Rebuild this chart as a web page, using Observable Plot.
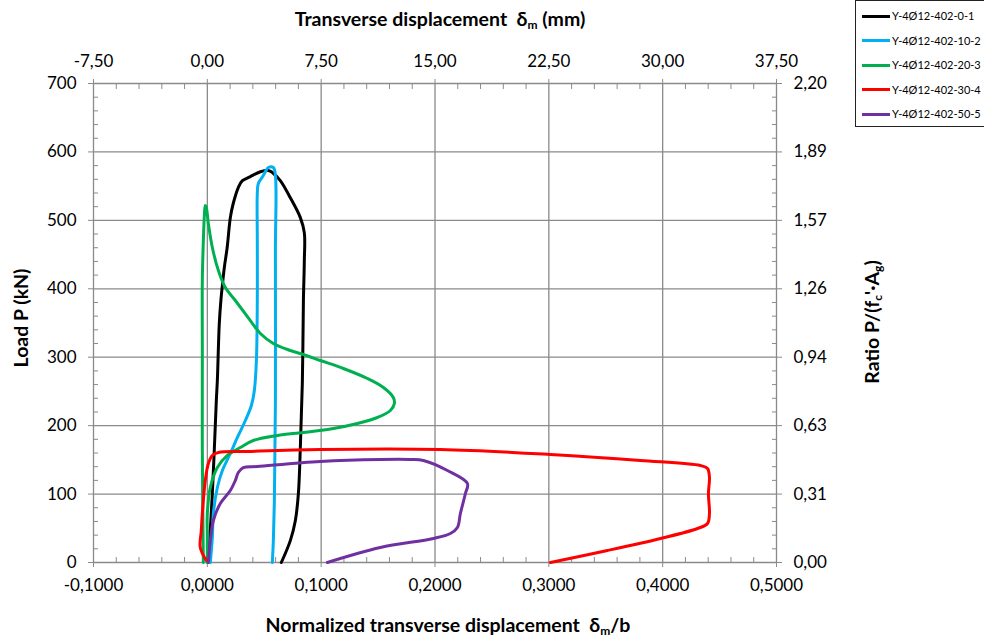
<!DOCTYPE html>
<html>
<head>
<meta charset="utf-8">
<script src="https://cdn.jsdelivr.net/npm/d3@7"></script>
<script src="https://cdn.jsdelivr.net/npm/@observablehq/plot@0.6"></script>
<style>
  html, body { margin: 0; padding: 0; background: #fff; }
  body { width: 984px; height: 641px; overflow: hidden; position: relative; font-family: Lato, "Open Sans", sans-serif; }
  #chart { position: absolute; left: 0; top: 0; }
  .title { position: absolute; font-weight: bold; font-size: 19.5px; color: #000; white-space: nowrap; }
  .title sub { font-size: 12px; vertical-align: -3px; }
  #legend { position: absolute; left: 855px; top: 0px; width: 131px; height: 127px; border: 1px solid #222; background: #fff; box-sizing: border-box; }
  .leg { position: absolute; left: 6px; height: 14px; font-size: 11px; line-height: 14px; white-space: nowrap; }
  .leg span.sw { display: inline-block; width: 28px; height: 3px; vertical-align: middle; margin-right: 2px; position: relative; top: -1px; }
</style>
</head>
<body>
<div id="chart"></div>
<script>
// ---- Data ----
const seriesNames = ["Y-4Ø12-402-0-1", "Y-4Ø12-402-10-2", "Y-4Ø12-402-20-3", "Y-4Ø12-402-30-4", "Y-4Ø12-402-50-5"];
const seriesColors = ["#000000", "#00B0F0", "#00B050", "#FF0000", "#7030A0"];

// normalized transverse displacement δm/b  vs  load P (kN)
const s1x = [0.0009,0.0026,0.0044,0.0062,0.0079,0.0088,0.0105,0.0120,0.0132,0.0150,0.0174,0.0202,0.0228,0.0272,0.0308,0.0378,0.0466,0.0536,0.0571,0.0641,0.0729,0.0817,0.0852,0.0852,0.0844,0.0835,0.0817,0.0800,0.0773,0.0729,0.0650];
const s1y = [0,46.8,100.8,168,236.7,266,349,385,405,432,460,504,525,548,558,564,571,573,570,558,533,504,482,441,383,266,168,101,61,32,0];

const s2x = [0.0026,0.0044,0.0053,0.0088,0.0132,0.0202,0.0264,0.0334,0.0387,0.0413,0.0431,0.0439,0.0439,0.0439,0.0448,0.0492,0.0536,0.0580,0.0598,0.0598,0.0598,0.0589,0.0580,0.0571];
const s2y = [0,36.5,71.6,109.6,134.4,159.3,182.7,207.5,229.4,251.4,295.2,383,470.6,539.3,553.9,565.6,577.2,577.2,565.6,456,236.7,90.6,32.1,0];

const s3x = [-0.0035,-0.0044,-0.0044,-0.0044,-0.0035,-0.0026,-0.0018,-0.0009,0.0009,0.0044,0.0097,0.0158,0.0246,0.0378,0.0466,0.0580,0.0729,0.0844,0.0993,0.1195,0.1406,0.1547,0.1634,0.1643,0.1608,0.1494,0.1318,0.1107,0.0844,0.0615,0.0404,0.0290,0.0176,0.0088,0.0026,0.0000,0.0000,0.0000];
const s3y = [0,163.7,309.8,412,470.6,507,521.7,518.8,495.4,460.3,426.7,401.9,382.9,353.6,334.7,320,309.8,304,295.2,283.5,268.9,255.7,241.1,232.4,222.1,211.9,203.1,195.8,190,185.6,178.3,168,156.4,138.8,109.6,71.6,36.5,0];

const s4x = [-0.0009,-0.0062,-0.0053,-0.0044,-0.0018,0.0009,0.0044,0.0097,0.0351,0.0993,0.2047,0.3014,0.3805,0.4332,0.4394,0.4411,0.4402,0.4411,0.4394,0.4306,0.3981,0.3515,0.3014];
const s4y = [2.9,21.9,46.8,71.6,119.8,144.7,156.4,160.7,162.2,165.1,165.1,157.8,149.1,141.7,137.4,124.2,100.8,71.6,57,49.7,35.1,17.5,0];

const s5x = [0.0009,0.0026,0.0053,0.0114,0.0202,0.0246,0.0272,0.0316,0.0439,0.0993,0.1520,0.1784,0.1898,0.2109,0.2285,0.2267,0.2223,0.2197,0.2135,0.1986,0.1520,0.1054];
const s5y = [0,32.1,61.4,86.2,105.2,119.8,131.5,138.8,140.3,147.6,150.5,150.5,149.1,134.4,115.4,100.8,71.6,51.1,42.4,35.1,21.9,0];

// ---- Tick values and labels ----
const xTicks = [-0.1, 0, 0.1, 0.2, 0.3, 0.4, 0.5];
const xTickLabels = ["-0,1000", "0,0000", "0,1000", "0,2000", "0,3000", "0,4000", "0,5000"];
const topTickLabels = ["-7,50", "0,00", "7,50", "15,00", "22,50", "30,00", "37,50"];
const yTicks = [0, 100, 200, 300, 400, 500, 600, 700];
const yTickLabels = ["0", "100", "200", "300", "400", "500", "600", "700"];
const rightTickLabels = ["0,00", "0,31", "0,63", "0,94", "1,26", "1,57", "1,89", "2,20"];

const xMinor = d3.range(-0.1, 0.5001, 0.02).map(v => +v.toFixed(4)).filter(v => !xTicks.some(t => Math.abs(t - v) < 1e-6));
const yMinor = d3.range(0, 701, 20).filter(v => v % 100 !== 0);

const allSeries = [s1x, s2x, s3x, s4x, s5x].map((xs, k) => {
  const ys = [s1y, s2y, s3y, s4y, s5y][k];
  return xs.map((x, i) => ({x, y: ys[i], s: seriesNames[k]}));
});

const grey = "#8a8a8a";
const chart = Plot.plot({
  width: 984,
  height: 641,
  marginLeft: 93,
  marginRight: 208,
  marginTop: 83,
  marginBottom: 79,
  style: {fontFamily: "Lato, 'Open Sans', sans-serif", fontSize: "17px", color: "#000", background: "#fff"},
  x: {domain: [-0.1, 0.5]},
  y: {domain: [0, 700]},
  marks: [
    Plot.ruleX(xTicks, {stroke: grey, strokeWidth: 1.3}),
    Plot.ruleY(yTicks, {stroke: grey, strokeWidth: 1.3}),
    // minor ticks (inward)
    Plot.axisX({anchor: "bottom", ticks: xMinor, tickSize: -5, tickFormat: () => "", stroke: grey, label: null}),
    Plot.axisX({anchor: "top", ticks: xMinor, tickSize: -5, tickFormat: () => "", stroke: grey, label: null}),
    Plot.axisY({anchor: "left", ticks: yMinor, tickSize: -5, tickFormat: () => "", stroke: grey, label: null}),
    Plot.axisY({anchor: "right", ticks: yMinor, tickSize: -5, tickFormat: () => "", stroke: grey, label: null}),
    // major ticks with labels
    Plot.axisX({anchor: "bottom", ticks: xTicks, tickSize: 5, tickPadding: 11, tickFormat: d => xTickLabels[xTicks.findIndex(t => Math.abs(t - d) < 1e-9)], stroke: grey, fill: "#000", label: null}),
    Plot.axisX({anchor: "top", ticks: xTicks, tickSize: 5, tickPadding: 12, tickFormat: d => topTickLabels[xTicks.findIndex(t => Math.abs(t - d) < 1e-9)], stroke: grey, fill: "#000", label: null}),
    Plot.axisY({anchor: "left", ticks: yTicks, tickSize: 5, tickPadding: 12, tickFormat: d => yTickLabels[yTicks.indexOf(d)], stroke: grey, fill: "#000", label: null}),
    Plot.axisY({anchor: "right", ticks: yTicks, tickSize: 5, tickPadding: 12, tickFormat: d => rightTickLabels[yTicks.indexOf(d)], stroke: grey, fill: "#000", label: null}),
    ...allSeries.map((d, k) => Plot.line(d, {x: "x", y: "y", stroke: seriesColors[k], strokeWidth: 3, curve: "catmull-rom"}))
  ]
});
document.getElementById("chart").appendChild(chart);

// titles
function addTitle(html, css) {
  const el = document.createElement("div");
  el.className = "title";
  el.innerHTML = html;
  Object.assign(el.style, css);
  document.body.appendChild(el);
  return el;
}
addTitle("Transverse displacement&nbsp; δ<sub>m</sub> (mm)", {left: "440px", top: "7px", transform: "translateX(-50%)"});
addTitle("Normalized transverse displacement&nbsp; δ<sub>m</sub>/b", {left: "448px", top: "613px", transform: "translateX(-50%)"});
addTitle("Load P (kN)", {left: "20px", top: "318px", transform: "translate(-50%,-50%) rotate(-90deg)"});
addTitle("Ratio P/(f<sub>c</sub>'·A<sub>g</sub>)", {left: "872px", top: "322px", transform: "translate(-50%,-50%) rotate(-90deg)"});

// legend
const legend = document.createElement("div");
legend.id = "legend";
seriesNames.forEach((name, k) => {
  const row = document.createElement("div");
  row.className = "leg";
  row.style.top = (8 + k * 24.5) + "px";
  row.innerHTML = `<span class="sw" style="background:${seriesColors[k]}"></span>${name}`;
  legend.appendChild(row);
});
document.body.appendChild(legend);
</script>
</body>
</html>
